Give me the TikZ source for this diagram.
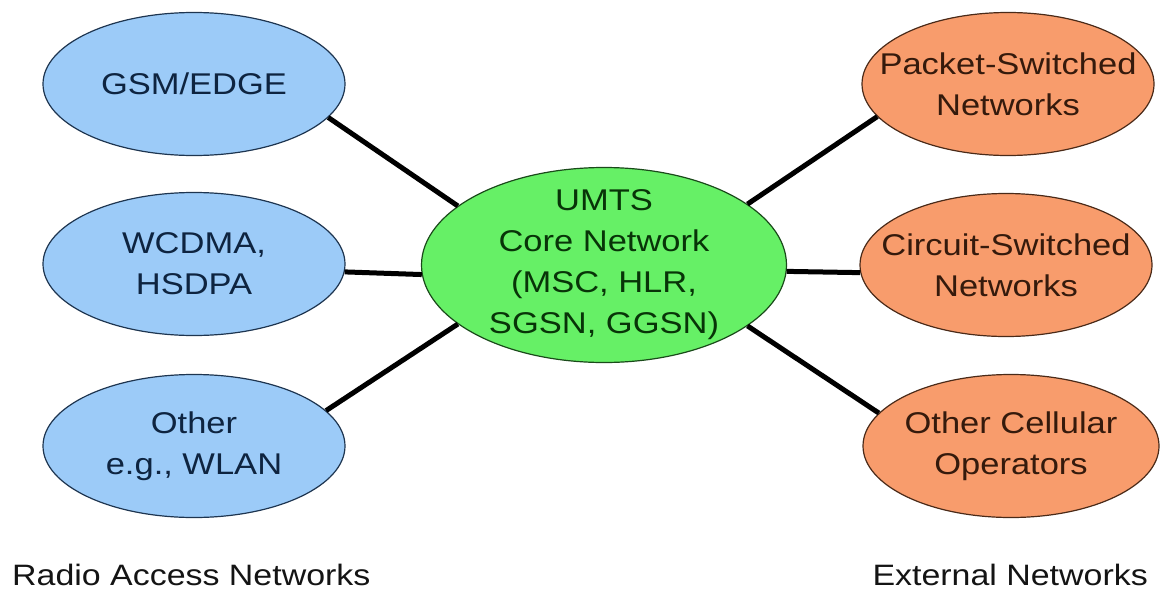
\documentclass[tikz,border=0pt]{standalone}
\usepackage{fontspec}
\setmainfont{Liberation Sans}[FakeStretch=1.15]
\usetikzlibrary{shapes.geometric}
\definecolor{ranfill}{HTML}{9CCBF8}
\definecolor{randraw}{HTML}{1E3550}
\definecolor{rantext}{HTML}{0E2440}
\definecolor{corefill}{HTML}{66F066}
\definecolor{coredraw}{HTML}{1A4A1A}
\definecolor{coretext}{HTML}{083408}
\definecolor{extfill}{HTML}{F89C6C}
\definecolor{extdraw}{HTML}{4A2A18}
\definecolor{exttext}{HTML}{351A0C}
\tikzset{
  oval/.style={ellipse, inner sep=0pt, line width=1.2pt},
  ovaltext/.style={align=center, font=\fontsize{30}{41}\selectfont},
  ran/.style={oval, fill=ranfill, draw=randraw, minimum width=302pt, minimum height=143pt},
  rantxt/.style={ovaltext, text=rantext},
  core/.style={oval, fill=corefill, draw=coredraw, minimum width=365pt, minimum height=195pt},
  coretxt/.style={ovaltext, text=coretext},
  ext/.style={oval, fill=extfill, draw=extdraw, minimum width=292pt, minimum height=143pt},
  exttxt/.style={ovaltext, text=exttext},
  link/.style={line width=5pt, black},
  caption/.style={font=\fontsize{29.5}{34}\selectfont, text=black!92, inner sep=0pt}
}
\begin{document}
\begin{tikzpicture}[x=1pt, y=-1pt]
\useasboundingbox (0,0) rectangle (1161,589);

% radio access networks
\node[ran, label={[rantxt]center:GSM/EDGE}] (gsm) at (194,84) {};
\node[ran, label={[rantxt]center:WCDMA,\\HSDPA}] (wcdma) at (194,264) {};
\node[ran, label={[rantxt]center:Other\\e.g., WLAN}] (wlan) at (194,446) {};

% core network
\node[core, label={[coretxt]center:UMTS\\Core Network\\(MSC, HLR,\\SGSN, GGSN)}] (umts) at (604,265) {};

% external networks
\node[ext, label={[exttxt]center:Packet-Switched\\Networks}] (psn) at (1008,84) {};
\node[ext, label={[exttxt]center:Circuit-Switched\\Networks}] (csn) at (1006,265) {};
\node[ext, minimum width=296pt, label={[exttxt]center:Other Cellular\\Operators}] (oco) at (1011,446) {};

% connections
\draw[link] (gsm.-14) -- (umts.158);
\draw[link] (wcdma.-3) -- (umts.-177.5);
\draw[link] (wlan.15) -- (umts.-158);
\draw[link] (umts.23) -- (psn.-166);
\draw[link] (umts.-2.5) -- (csn.-177);
\draw[link] (umts.-23) -- (oco.166);

% group captions
\node[caption, anchor=base west] (rancap) at (12,585) {Radio Access Networks};
\node[caption, anchor=base east] (extcap) at (1148,585) {External Networks};
\end{tikzpicture}
\end{document}
